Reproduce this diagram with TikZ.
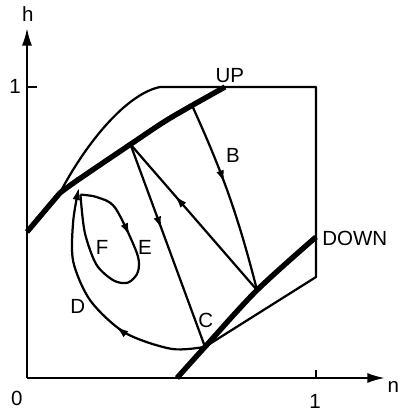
\documentclass[tikz,border=0pt]{standalone}
\usepackage{fontspec}
\setmainfont{Liberation Sans}
\usetikzlibrary{arrows.meta, decorations.markings}
\tikzset{
    flowtip/.tip={Latex[length=11pt, width=6.5pt]},
    axistip/.tip={Latex[length=15pt, width=8.5pt]},
    thinline/.style={line width=1.9pt},
    thickline/.style={line width=4.6pt},
    midarrow/.style={postaction={decorate}, decoration={markings,
        mark=at position #1 with {\arrow{flowtip}}}},
    lbl/.style={font=\fontsize{17.5}{20}\selectfont, inner sep=0pt},
}

\begin{document}
\begin{tikzpicture}[x=8.67cm, y=8.73cm, line join=round]
    \useasboundingbox (-0.0934,-0.1134) rectangle (1.2872,1.299);

    \coordinate (O) at (0,0);
    \coordinate (htip) at (0,1.203);
    \coordinate (ntip) at (1.239,0);
    \coordinate (K) at (0.114,0.636);
    \coordinate (P) at (0.358,0.803);
    \coordinate (T) at (0.571,0.937);
    \coordinate (Q) at (0.796,0.302);
    \coordinate (C) at (0.616,0.107);
    \coordinate (S) at (0.1765,0.681);
    \coordinate (Sin) at (0.180,0.656);

    % axes
    \draw[thinline, -{axistip}] (O) -- (htip);
    \draw[thinline, -{axistip}] (O) -- (ntip);
    \draw[thinline] (0,1) -- (0.035,1);
    \draw[thinline] (1,0) -- (1,0.027);
    \node[lbl] (hlab) at (0.003,1.251) {h};
    \node[lbl, anchor=west] (nlab) at (1.247,-0.031) {n};
    \node[lbl] (oneh) at (-0.0415,1.003) {1};
    \node[lbl] (onen) at (0.9965,-0.079) {1};
    \node[lbl] (zero) at (-0.035,-0.069) {0};

    % boundary of the region
    \draw[thinline] (K) .. controls (0.2,0.80) and (0.34,0.975) .. (0.46,1.0)
        -- (1,1) -- (1,0.347) -- (C);

    % UP and DOWN
    \draw[thickline] (0,0.502) -- (K) plot[smooth] coordinates {(K)
        (S) (P) (0.495,0.893) (0.685,1.0)};
    \draw[thickline] plot[smooth] coordinates {(0.519,0) (C) (Q) (1,0.4845)};
    \node[lbl] (up) at (0.702,1.041) {UP};
    \node[lbl, anchor=west] (down) at (1.021,0.481) {DOWN};

    % trajectories
    \draw[thinline, midarrow=0.43] (T) to[bend left=5] (Q);
    \draw[thinline, midarrow=0.65] (Q) -- (P);
    \draw[thinline, midarrow=0.42] (P) -- (C);
    \draw[thinline, midarrow=0.38, -{flowtip}] plot[smooth] coordinates {(C)
        (0.50,0.100) (0.34,0.155) (0.22,0.265) (0.160,0.400) (0.160,0.540) (Sin)};
    \draw[thinline, midarrow=0.3] plot[smooth] coordinates {(0.185,0.630)
        (0.240,0.622) (0.305,0.585) (0.380,0.430) (0.384,0.365)
        (0.350,0.328) (0.300,0.335) (0.240,0.390) (0.200,0.500)
        (0.185,0.630)};
    \fill (S) circle (0.009);

    \node[lbl] (blab) at (0.713,0.766) {B};
    \node[lbl] (clab) at (0.619,0.199) {C};
    \node[lbl] (dlab) at (0.176,0.247) {D};
    \node[lbl] (elab) at (0.408,0.450) {E};
    \node[lbl] (flab) at (0.260,0.450) {F};
\end{tikzpicture}
\end{document}
